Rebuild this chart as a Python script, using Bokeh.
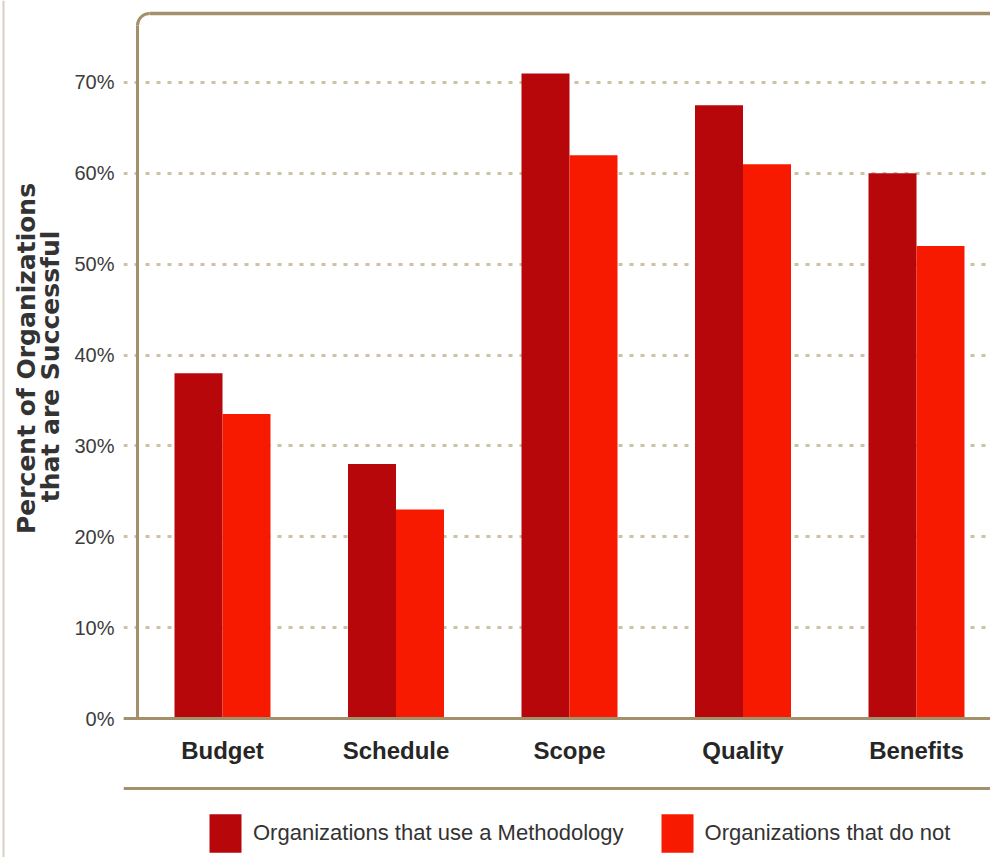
import math
from bokeh.plotting import figure
from bokeh.layouts import row
from bokeh.models import FixedTicker, Legend, LegendItem, Span, Range1d
from bokeh.core.properties import value
from bokeh.embed import file_html
from bokeh.resources import INLINE

# ---------------- data ----------------
categories = ["Budget", "Schedule", "Scope", "Quality", "Benefits"]
with_methodology = [38, 28, 71, 67.5, 60]
without_methodology = [33.5, 23, 62, 61, 52]
series_names = ["Organizations that use a Methodology", "Organizations that do not"]
y_ticks = [0, 10, 20, 30, 40, 50, 60, 70]
y_tick_labels = ["0%", "10%", "20%", "30%", "40%", "50%", "60%", "70%"]
y_title_lines = ["Percent of Organizations", "that are Successful"]

# ---------------- style ----------------
DARK_RED = "#b8070b"
BRIGHT_RED = "#f81a00"
BORDER = "#a3916b"
GRID = "#cdc2a6"
SANS = "Liberation Sans"
WIDE = "DejaVu Sans"

TOTAL_W, H = 990, 857
TITLE_W = 66                  # width of the y-title strip
W = TOTAL_W - TITLE_W
FRAME_LEFT_PAGE = 123         # page x of the plot frame's left edge
PX_PER_CAT = 173.5            # px per category step
PX_PER_UNIT = 9.086           # px per percent
REF_X0, REF_Y0 = 222.0, 718.0  # page px of first category centre / zero line

frame_w = TOTAL_W - FRAME_LEFT_PAGE
x_start = (FRAME_LEFT_PAGE - REF_X0) / PX_PER_CAT
x_end = x_start + frame_w / PX_PER_CAT
y_end = REF_Y0 / PX_PER_UNIT
y_start = y_end - H / PX_PER_UNIT


def xd(px):
    return (px - REF_X0) / PX_PER_CAT


def yd(py):
    return (REF_Y0 - py) / PX_PER_UNIT


# ---------------- y title strip ----------------
pt = figure(width=TITLE_W, height=H, output_backend="svg", toolbar_location=None,
            x_range=Range1d(0, TITLE_W), y_range=Range1d(H, 0),
            x_axis_location=None, y_axis_location=None,
            min_border=0, min_border_left=0, min_border_right=0,
            min_border_top=0, min_border_bottom=0)
pt.outline_line_color = None
pt.grid.visible = False
pt.background_fill_color = "white"
pt.border_fill_color = "white"
pt.add_layout(Span(location=3, dimension="height", line_color="#d6cfc2", line_width=2))
pt.text(x=[26, 50], y=[358, 366], text=y_title_lines, angle=math.pi / 2,
        text_align="center", text_baseline="middle", text_font=value(WIDE),
        text_font_style="bold", text_font_size="25px", text_color="#333333")

# ---------------- main chart ----------------
p = figure(width=W, height=H, output_backend="svg", toolbar_location=None,
           x_range=Range1d(x_start, x_end), y_range=Range1d(y_start, y_end),
           x_axis_location=None, min_border_left=FRAME_LEFT_PAGE - TITLE_W,
           min_border_right=0, min_border_top=0, min_border_bottom=0)
p.outline_line_color = None
p.background_fill_color = "white"
p.border_fill_color = "white"

# grid
p.xgrid.visible = False
p.ygrid.ticker = FixedTicker(ticks=y_ticks)
p.ygrid.grid_line_color = GRID
p.ygrid.grid_line_width = 3
p.ygrid.grid_line_dash = "4 7"

# y axis
p.yaxis.ticker = FixedTicker(ticks=y_ticks)
p.yaxis.major_label_overrides = {t: l for t, l in zip(y_ticks, y_tick_labels)}
p.yaxis.axis_line_color = None
p.yaxis.major_tick_line_color = None
p.yaxis.minor_tick_line_color = None
p.yaxis.major_label_standoff = 3
p.yaxis.major_label_text_font = SANS
p.yaxis.major_label_text_font_size = "20px"
p.yaxis.major_label_text_color = "#3c3c3c"

# bars
bw = 48 / PX_PER_CAT
xs = list(range(len(categories)))
r1 = p.vbar(x=[i - bw / 2 for i in xs], top=with_methodology, bottom=0, width=bw,
            fill_color=DARK_RED, line_color=None)
r2 = p.vbar(x=[i + bw / 2 for i in xs], top=without_methodology, bottom=0, width=bw,
            fill_color=BRIGHT_RED, line_color=None)

# frame decoration: left border with rounded top-left corner, baseline, lower rule
rad = 12
bx = xd(137)
by = yd(13)
cx = bx + rad / PX_PER_CAT
cy = by - rad / PX_PER_UNIT
p.segment(x0=[bx], y0=[0], x1=[bx], y1=[cy], line_color=BORDER, line_width=3)
p.arc(x=[cx], y=[cy], radius=rad, radius_units="screen", start_angle=math.pi / 2,
      end_angle=math.pi, line_color=BORDER, line_width=3)
p.segment(x0=[cx], y0=[by], x1=[x_end + 1], y1=[by], line_color=BORDER, line_width=3.5)
p.add_layout(Span(location=0, dimension="width", line_color=BORDER, line_width=3))
p.add_layout(Span(location=yd(788), dimension="width", line_color=BORDER, line_width=3))

# category labels
p.text(x=xs, y=[yd(750)] * len(xs), text=categories, text_align="center",
       text_baseline="middle", text_font=value(SANS), text_font_style="bold",
       text_font_size="24px", text_color="#262626")

# legend
legend = Legend(items=[LegendItem(label=series_names[0], renderers=[r1]),
                       LegendItem(label=series_names[1], renderers=[r2])],
                orientation="horizontal", location=(205 - FRAME_LEFT_PAGE, 0),
                glyph_width=40, glyph_height=48, label_standoff=8, spacing=33,
                padding=0, margin=0, border_line_color=None,
                background_fill_alpha=0, label_text_font=SANS,
                label_text_font_size="22px", label_text_color="#333333")
p.add_layout(legend)

layout = row(pt, p, spacing=0)
open("out.html", "w").write(file_html(layout, INLINE))
